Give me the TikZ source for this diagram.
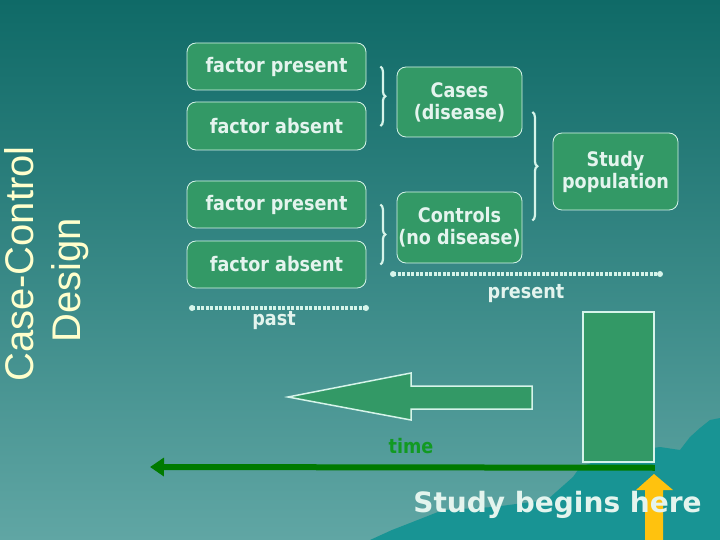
\documentclass[tikz,border=0pt]{standalone}
\usepackage{fontspec}
\setmainfont{DejaVu Sans}[FakeStretch=0.88]
\newfontfamily\bigfont{DejaVu Sans}
\newfontfamily\titlefont{Liberation Sans}
\usepackage{tikz}
\usetikzlibrary{arrows.meta}
\usetikzlibrary{positioning}
\usetikzlibrary{decorations.pathreplacing}
\definecolor{boxgreen}{HTML}{339966}
\definecolor{rimcol}{HTML}{D6F4EA}
\definecolor{txtcol}{HTML}{E4F4EE}
\definecolor{bgtop}{HTML}{0F6A67}
\definecolor{bgbot}{HTML}{60A6A4}
\definecolor{hill}{HTML}{189494}
\definecolor{timegreen}{HTML}{007A00}
\definecolor{labgreen}{HTML}{119A22}
\definecolor{sunny}{HTML}{FFC20E}
\definecolor{titlecol}{HTML}{FFFFCC}
\tikzset{
  grp/.style={draw=rimcol,fill=boxgreen,rounded corners=9pt,line width=0.8pt,text=txtcol,
    font=\fontsize{20}{22}\selectfont\bfseries,align=center,inner sep=0pt},
  brc/.style={draw=rimcol,line width=2.2pt,decorate,decoration={brace,amplitude=5pt}},
  span/.style={draw=rimcol,line width=3.5pt,dash pattern=on 3pt off 1.5pt},
  lab/.style={text=txtcol,font=\fontsize{20}{22}\selectfont\bfseries},
  ttl/.style={text=titlecol,font=\titlefont\fontsize{40}{44}\selectfont,rotate=90,anchor=base},
}
\begin{document}
\begin{tikzpicture}[x=1pt,y=-1pt,>=Stealth]
	\useasboundingbox (0,0) rectangle (720,540);
	\shade[top color=bgtop,bottom color=bgbot] (0,0) rectangle (720,540);
	\fill[hill] (370,540)--(392,530)--(410,523)--(443,510)--(493,507)--(547,500)--(573,477)--(580,467)--(600,460)--(640,450)--(660,447)--(680,450)--(690,437)--(700,428)--(710,420)--(720,418)--(720,540)--cycle;
	\node[ttl] (t1) at (33,264) {Case-Control};
	\node[ttl] (t2) at (80,280) {Design};
	\node[grp,minimum width=179pt,minimum height=47pt] (fp1) at (276.5,66.5) {factor present};
	\node[grp,minimum width=179pt,minimum height=48pt] (fa1) at (276.5,126) {factor absent};
	\node[grp,minimum width=179pt,minimum height=47pt] (fp2) at (276.5,204.5) {factor present};
	\node[grp,minimum width=179pt,minimum height=47pt] (fa2) at (276.5,264.5) {factor absent};
	\node[grp,minimum width=125pt,minimum height=70pt] (cases) at (459.5,102) {Cases\\(disease)};
	\node[grp,minimum width=125pt,minimum height=71pt] (ctrl) at (459.5,227.5) {Controls\\(no disease)};
	\node[grp,minimum width=125pt,minimum height=77pt] (study) at (615.5,171.5) {Study\\population};
	\draw[brc] ([xshift=14pt]fp1.east)--([xshift=14pt]fa1.east);
	\draw[brc] ([xshift=14pt]fp2.east)--([xshift=14pt]fa2.east);
	\draw[brc] ([xshift=10pt,yshift=-10pt]cases.east)--([xshift=10pt,yshift=7pt]ctrl.east);
	\coordinate (p1) at (393,274);
	\coordinate (p2) at (660,274);
	\coordinate (q1) at (192,308);
	\coordinate (q2) at (366,308);
	\draw[span] (p1)--(p2);
	\draw[span] (q1)--(q2);
	\foreach \c in {p1,p2,q1,q2} \fill[rimcol] (\c) circle(3pt);
	\node[lab] (present) at (526,294) {present};
	\node[lab] (past) at (274,321) {past};
	\node[draw=rimcol,fill=boxgreen,line width=1.5pt,minimum width=71pt,minimum height=150pt,inner sep=0pt] (now) at (618.5,387) {};
	\draw[draw=rimcol,fill=boxgreen,line width=1.5pt] (288,397)--(411,373)--(411,386)--(532,386)--(532,409)--(411,409)--(411,420)--cycle;
	\coordinate (tbeg) at (now.south east);
	\coordinate (tend) at (150,467);
	\draw[timegreen,line width=6pt,-{Triangle[length=14pt,width=18pt]}] ([yshift=-5pt]tbeg)--(tend);
	\node[text=labgreen,font=\fontsize{20}{22}\selectfont\bfseries] (time) at (411,446) {time};
	\fill[sunny] (654,474)--(673,490)--(663,490)--(663,540)--(645,540)--(645,490)--(636,490)--cycle;
	\node[text=txtcol,font=\bigfont\fontsize{28}{30}\selectfont\bfseries,anchor=base] (begin) at (557.5,512) {Study begins here};
\end{tikzpicture}
\end{document}
